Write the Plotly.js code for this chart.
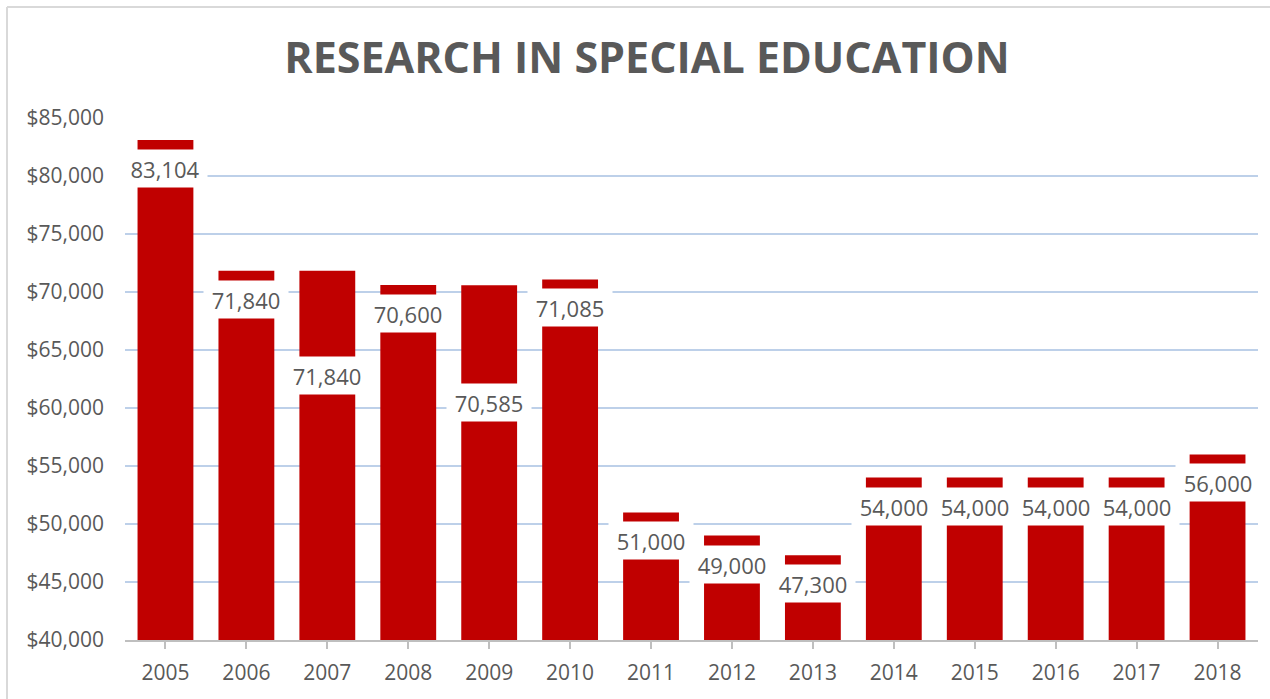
<!DOCTYPE html>
<html>
<head>
<meta charset="utf-8">
<script src="https://cdn.plot.ly/plotly-3.0.1.min.js"></script>
<style>
  html, body { margin: 0; padding: 0; background: #ffffff; }
  #chart { width: 1270px; height: 699px; }
</style>
</head>
<body>
<div id="chart"></div>
<script>
// ---- data ----
const years = ["2005","2006","2007","2008","2009","2010","2011","2012","2013","2014","2015","2016","2017","2018"];
const funding = [83104, 71840, 71840, 70600, 70585, 71085, 51000, 49000, 47300, 54000, 54000, 54000, 54000, 56000];
const yTicks = [40000, 45000, 50000, 55000, 60000, 65000, 70000, 75000, 80000, 85000];
// extra downward offset (px) of manually moved data labels in the original
const labelDrop = [0, 0, 76, 0, 89, 0, 0, 0, 0, 0, 0, 0, 0, 0];

const fmt = v => v.toLocaleString('en-US');

const textColor = '#595959';
const barColor = '#C00000';
const font = 'Open Sans, Liberation Sans, sans-serif';

// annotation x uses the category index (numeric-looking names would be read as indices)
const annotations = years.map((y, i) => ({
  x: i, y: funding[i], xref: 'x', yref: 'y',
  text: fmt(funding[i]),
  showarrow: false,
  yanchor: 'top', xanchor: 'center',
  yshift: -9 - labelDrop[i],
  width: 84, height: 37, borderpad: 0,
  bgcolor: '#ffffff',
  font: { family: font, size: 22, color: textColor }
}));

const trace = {
  type: 'bar',
  x: years,
  y: funding,
  marker: { color: barColor },
  hoverinfo: 'x+y'
};

const layout = {
  width: 1270, height: 699,
  paper_bgcolor: '#ffffff', plot_bgcolor: '#ffffff',
  margin: { l: 125, r: 12, t: 118, b: 59 },
  title: {
    text: '<b>RESEARCH IN SPECIAL EDUCATION</b>',
    font: { family: font, size: 43, color: textColor },
    x: 647/1270, xanchor: 'center', xref: 'container',
    y: 1 - 58/699, yanchor: 'middle', yref: 'container'
  },
  bargap: 0.31,
  showlegend: false,
  xaxis: {
    type: 'category',
    range: [-0.5, years.length - 0.5], autorange: false,
    showgrid: false,
    showline: true, linecolor: '#BFBFBF', linewidth: 2,
    ticks: 'outside', ticklen: 7, tickwidth: 2, tickcolor: '#BFBFBF',
    tickfont: { family: font, size: 21, color: textColor },
    ticklabelstandoff: 6,
    tickangle: 0,
    zeroline: false
  },
  yaxis: {
    range: [40000, 85000], autorange: false,
    tickmode: 'array',
    tickvals: yTicks,
    ticktext: yTicks.map(v => '$' + fmt(v)),
    showgrid: true, gridcolor: '#BDD0E9', gridwidth: 2,
    showline: false, zeroline: false,
    ticks: '',
    tickfont: { family: font, size: 21, color: textColor },
    ticklabelstandoff: 20
  },
  annotations: annotations,
  shapes: [
    { type: 'line', xref: 'paper', yref: 'paper',
      x0: -118/1133, x1: 1145/1133, y0: 1 + 111/522, y1: 1 + 111/522,
      line: { color: '#D9D9D9', width: 2 } },
    { type: 'line', xref: 'paper', yref: 'paper',
      x0: -118/1133, x1: -118/1133, y0: 1 + 111/522, y1: -59/522,
      line: { color: '#D9D9D9', width: 2 } }
  ]
};

Plotly.newPlot('chart', [trace], layout, { displayModeBar: false, staticPlot: true });
</script>
</body>
</html>
